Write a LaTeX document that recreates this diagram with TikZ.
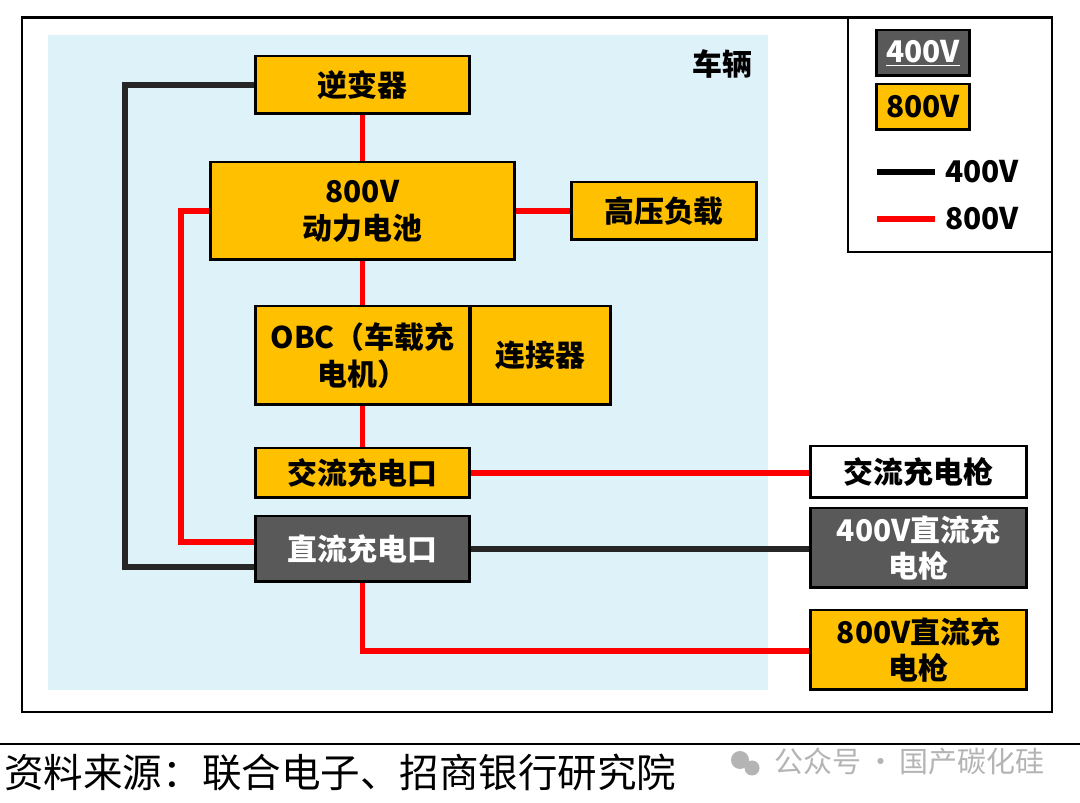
\documentclass[tikz,border=0pt]{standalone}
\usepackage{fontspec}
\newfontfamily\cjk{Noto Sans CJK SC}
\definecolor{yel}{HTML}{FFC000}
\definecolor{gry}{HTML}{595959}
\definecolor{lblue}{HTML}{DEF2FA}
\definecolor{wred}{HTML}{FF0000}
\definecolor{wblk}{HTML}{262626}
\definecolor{wm}{HTML}{B4B4B4}
\pgfdeclarelayer{back}
\pgfdeclarelayer{wires}
\pgfsetlayers{back,wires,main}
\tikzset{
  box/.style={draw=black, line width=1.7pt, fill=yel, inner sep=0pt, align=center,
    font=\cjk\bfseries\fontsize{17}{21}\selectfont, text=black},
  gbox/.style={box, fill=gry, text=white},
  wbox/.style={box, fill=white},
  redw/.style={draw=wred, line width=3.4pt},
  blkw/.style={draw=wblk, line width=3.4pt},
  lbl/.style={font=\cjk\bfseries\fontsize{17}{21}\selectfont, inner sep=0pt}
}
\begin{document}
\begin{tikzpicture}[x=0.02cm,y=-0.02cm]
\useasboundingbox (0,0) rectangle (1080,803);
\begin{pgfonlayer}{back}
\fill[white] (0,0) rectangle (1080,803);
\fill[lblue] (48,35) rectangle (768,690);
\end{pgfonlayer}
\draw[line width=1.7pt] (22,18) rectangle (1052,712);
\node[lbl, anchor=center] (car) at (722,64) {车辆};
% legend
\draw[line width=1.7pt] (848,18) rectangle (1052,252);
\node[gbox, minimum width=1.86cm, minimum height=0.92cm] (lg1) at (923,53) {\underline{400V}};
\node[box, minimum width=1.86cm, minimum height=0.92cm] (lg2) at (923,107) {800V};
\coordinate (l1a) at (877,172); \coordinate (l1b) at (935,172);
\coordinate (l2a) at (877,219); \coordinate (l2b) at (935,219);
\draw[draw=black, line width=3.4pt] (l1a) -- (l1b);
\draw[redw] (l2a) -- (l2b);
\node[lbl, anchor=west] (lt1) at (945,172) {400V};
\node[lbl, anchor=west] (lt2) at (945,219) {800V};
% nodes
\node[box, minimum width=4.3cm, minimum height=1.16cm] (inv) at (362.5,85) {逆变器};
\node[box, minimum width=6.1cm, minimum height=1.96cm] (bat) at (362.5,211) {800V\\动力电池};
\node[box, minimum width=3.72cm, minimum height=1.16cm] (load) at (664,211) {高压负载};
\node[box, minimum width=4.3cm, minimum height=1.98cm] (obc) at (362.5,355.5) {OBC（车载充\\电机）};
\node[box, minimum width=2.82cm, minimum height=1.98cm] (conn) at (540.5,355.5) {连接器};
\node[box, minimum width=4.3cm, minimum height=1.0cm] (ac) at (362.5,473) {交流充电口};
\node[gbox, minimum width=4.3cm, minimum height=1.32cm] (dc) at (362.5,549) {直流充电口};
\node[wbox, minimum width=4.34cm, minimum height=1.04cm] (acg) at (918.5,472) {交流充电枪};
\node[gbox, minimum width=4.34cm, minimum height=1.6cm] (dcg4) at (918.5,548) {400V直流充\\电枪};
\node[box, minimum width=4.34cm, minimum height=1.6cm] (dcg8) at (918.5,650) {800V直流充\\电枪};
% wires
\coordinate (b1) at (125,85);
\coordinate (b2) at (125,567);
\coordinate (r1) at (181,211);
\coordinate (r2) at (181,542);
\coordinate (r3) at (362.5,651);
\begin{pgfonlayer}{wires}
\draw[blkw] (inv.west) -- (b1) -- (b2) -- (dc.west |- b2);
\draw[redw] (inv.south) -- (bat.north);
\draw[redw] (bat.east) -- (load.west);
\draw[redw] (bat.west) -- (r1) -- (r2) -- (dc.west |- r2);
\draw[redw] (bat.south) -- (obc.north);
\draw[redw] (obc.south) -- (ac.north);
\draw[redw] (ac.east) -- (acg.west |- ac.east);
\draw[blkw] (dc.east) -- (dcg4.west |- dc.east);
\draw[redw] (dc.south) -- (r3) -- (dcg8.west |- r3);
\end{pgfonlayer}
% footer
\draw[line width=1.7pt] (0,744) -- (1080,744);
\node[anchor=west, inner sep=0pt, font=\cjk\fontsize{22.5}{26}\selectfont] (src) at (4,772) {资料来源：联合电子、招商银行研究院};
\fill[wm] (740,760) circle (9);
\fill[wm] (752,768) circle (7.5);
\node[anchor=west, inner sep=0pt, text=wm, font=\cjk\fontsize{16.5}{19}\selectfont] (wmk) at (774,762) {公众号\,·\,国产碳化硅};
\end{tikzpicture}
\end{document}
